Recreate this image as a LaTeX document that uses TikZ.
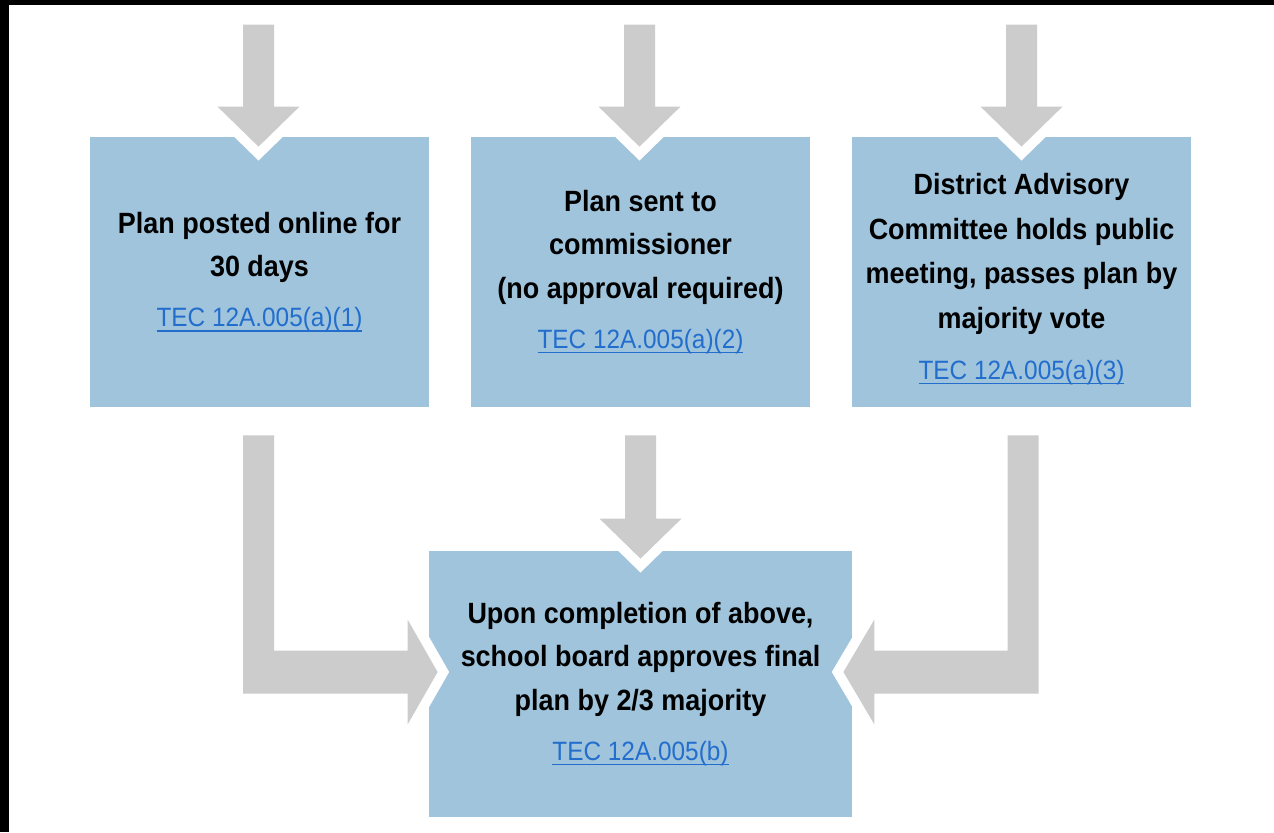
\documentclass[tikz,border=0pt]{standalone}
\usepackage{fontspec}
\setmainfont{Liberation Sans}[FakeStretch=0.92]
\usetikzlibrary{calc}
\definecolor{boxblue}{RGB}{159,196,220}
\definecolor{arrgray}{RGB}{204,204,204}
\definecolor{linkblue}{RGB}{35,110,205}
\newcommand\lnk[1]{{\fontsize{13.25}{21.75}\selectfont\mdseries\color{linkblue}\setbox0\hbox{#1}\rlap{\rule[-2.5pt]{\wd0}{0.65pt}}\box0}}
\newcommand\dnarrow[2]{%
  \path[blockarrow] ($(#1)+(-15.5,0)$) -- ($(#2)+(-15.5,-40)$) -- ($(#2)+(-41,-40)$) -- (#2)
    -- ($(#2)+(41,-40)$) -- ($(#2)+(15.5,-40)$) -- ($(#1)+(15.5,0)$) -- cycle;}
\tikzset{
  stepbox/.style={fill=boxblue, inner sep=0pt, align=center,
    font=\fontsize{14.65}{21.75}\selectfont\bfseries},
  topbox/.style={stepbox, minimum width=169.5pt, minimum height=135pt},
  blockarrow/.style={fill=arrgray, preaction={draw=white, line width=10pt, line join=miter}},
}
\begin{document}
\begin{tikzpicture}[x=0.5pt, y=-0.5pt]
\useasboundingbox (0,0) rectangle (1274,832);
\fill[white] (0,0) rectangle (1274,832);
\fill[black] (0,0) rectangle (1274,5);
\fill[black] (0,0) rectangle (9,832);

\node[topbox] (b1) at (259.5,272) {Plan posted online for\\30 days\\[3.25pt]\lnk{TEC 12A.005(a)(1)}};
\node[topbox] (b2) at (640.5,272) {Plan sent to\\commissioner\\(no approval required)\\[3.25pt]\lnk{TEC 12A.005(a)(2)}};
\node[topbox, font=\fontsize{14.65}{22.25}\selectfont\bfseries] (b3) at (1021.5,272) {\rule{0pt}{17.5pt}District Advisory\\Committee holds public\\meeting, passes plan by\\majority vote\\[3.25pt]\lnk{TEC 12A.005(a)(3)}};
\node[stepbox, minimum width=211.5pt, minimum height=133pt] (b4) at (640.5,684) {Upon completion of above,\\school board approves final\\plan by 2/3 majority\\[3.25pt]\lnk{TEC 12A.005(b)}};

% top incoming arrows
\coordinate (s1) at ($(b1.north)+(-1,-112)$);
\coordinate (s2) at ($(b2.north)+(-1,-112)$);
\coordinate (s3) at ($(b3.north)+(0,-112)$);
\coordinate (p1) at ($(s1 |- b1.north)+(0,10)$);
\coordinate (p2) at ($(s2 |- b2.north)+(0,10)$);
\coordinate (p3) at ($(s3 |- b3.north)+(0,10)$);
\dnarrow{s1}{p1}
\dnarrow{s2}{p2}
\dnarrow{s3}{p3}

% middle arrow into final box
\coordinate (s5) at ($(b2.south)+(0,28)$);
\coordinate (q2) at ($(s5 |- b4.north)+(0,8)$);
\dnarrow{s5}{q2}

% left elbow arrow
\coordinate (s4) at ($(b1.south)+(-1,28)$);
\coordinate (q1) at ($(b4.west)+(9,-12)$);
\path[blockarrow] ($(s4)+(-15.5,0)$) -- ($(s4 |- q1)+(-15.5,21.5)$) -- ($(q1)+(-30,21.5)$)
  -- ($(q1)+(-30,52.5)$) -- (q1) -- ($(q1)+(-30,-52.5)$) -- ($(q1)+(-30,-21.5)$)
  -- ($(s4 |- q1)+(15.5,-21.5)$) -- ($(s4)+(15.5,0)$) -- cycle;

% right elbow arrow
\coordinate (s6) at ($(b3.south)+(1.5,28)$);
\coordinate (q3) at ($(b4.east)+(-9,-12)$);
\path[blockarrow] ($(s6)+(15.5,0)$) -- ($(s6 |- q3)+(15.5,21.5)$) -- ($(q3)+(31,21.5)$)
  -- ($(q3)+(31,52.5)$) -- (q3) -- ($(q3)+(31,-52.5)$) -- ($(q3)+(31,-21.5)$)
  -- ($(s6 |- q3)+(-15.5,-21.5)$) -- ($(s6)+(-15.5,0)$) -- cycle;
\end{tikzpicture}
\end{document}
